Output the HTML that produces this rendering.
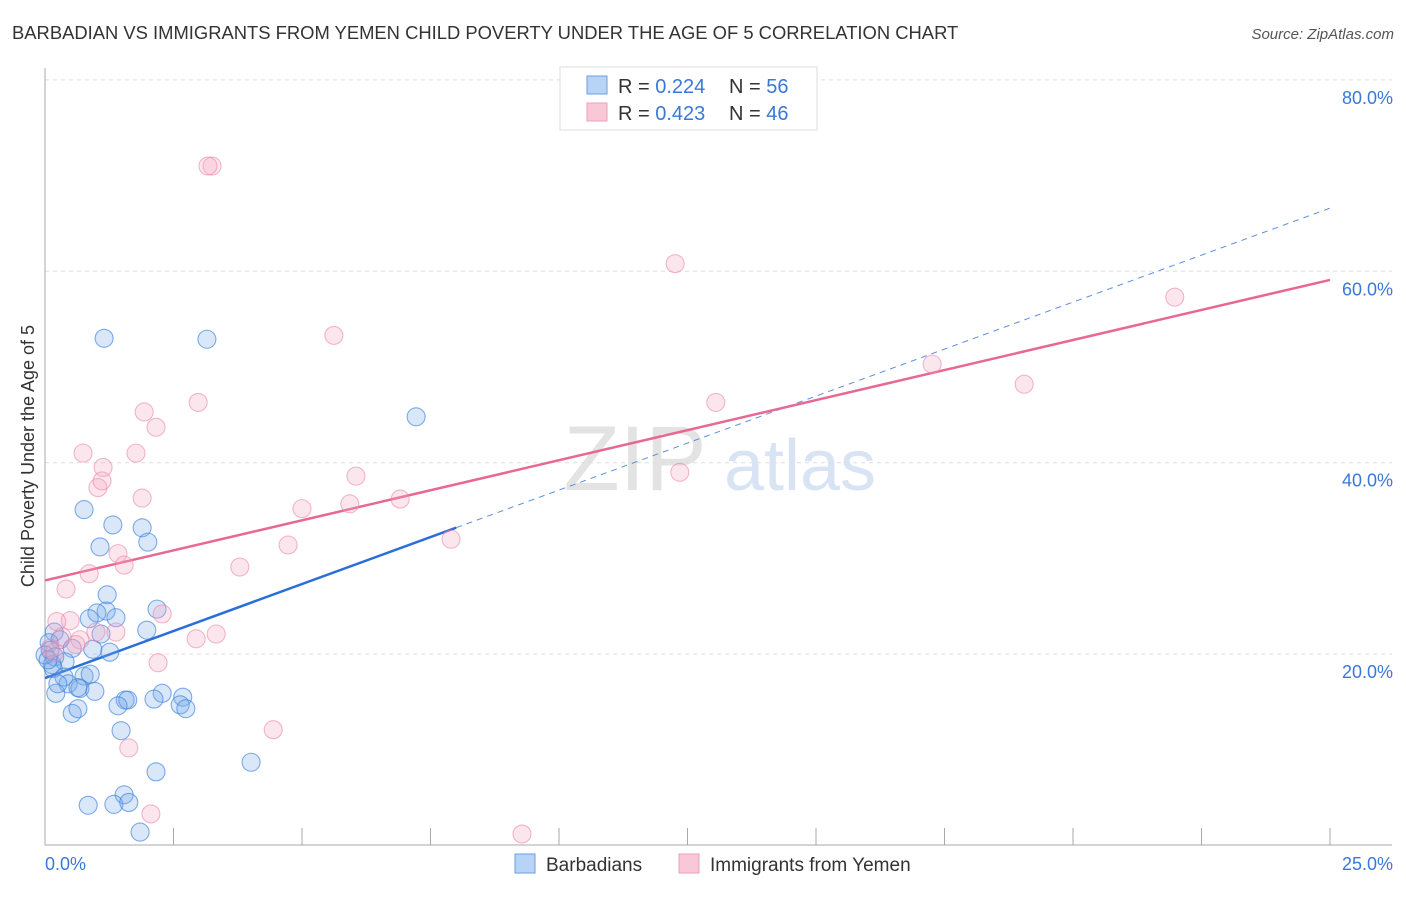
<!DOCTYPE html>
<html><head><meta charset="utf-8"><style>
body{margin:0;background:#fff;font-family:"Liberation Sans",sans-serif;}
svg text{font-family:"Liberation Sans",sans-serif;}
</style></head><body>
<svg id="chart" width="1406" height="892">
<text x="12" y="39" font-size="18.4" fill="#333">BARBADIAN VS IMMIGRANTS FROM YEMEN CHILD POVERTY UNDER THE AGE OF 5 CORRELATION CHART</text>
<text x="1394" y="39" font-size="15" fill="#555" font-style="italic" text-anchor="end">Source: ZipAtlas.com</text>
<g>
<text x="635" y="490" font-size="92" fill="#d8d8d8" font-family="Liberation Serif" text-anchor="middle" opacity="0.7">ZIP</text>
<text x="800" y="490" font-size="72" fill="#c8daf0" text-anchor="middle" opacity="0.7">atlas</text>
</g>
<g id="grid"></g>
<g id="axes"></g>
<g id="lines"></g>
<g id="points"></g>
<text transform="translate(34,456) rotate(-90)" font-size="18" fill="#333" text-anchor="middle">Child Poverty Under the Age of 5</text>
<g>
<rect x="560" y="67" width="257" height="63" fill="#fff" stroke="#ddd"/>
<rect x="587" y="76" width="20" height="18" fill="#b8d3f5" stroke="#6aa0e0"/>
<text x="618" y="93" font-size="20" fill="#333">R = <tspan fill="#3a78d8">0.224</tspan></text>
<text x="729" y="93" font-size="20" fill="#333">N = <tspan fill="#3a78d8">56</tspan></text>
<rect x="587" y="103" width="20" height="18" fill="#f8c8d6" stroke="#eea0b8"/>
<text x="618" y="120" font-size="20" fill="#333">R = <tspan fill="#3a78d8">0.423</tspan></text>
<text x="729" y="120" font-size="20" fill="#333">N = <tspan fill="#3a78d8">46</tspan></text>
</g>
<g>
<rect x="515" y="854" width="20" height="19" fill="#b8d3f5" stroke="#6aa0e0"/>
<text x="546" y="871" font-size="19" fill="#333">Barbadians</text>
<rect x="679" y="854" width="20" height="19" fill="#f8c8d6" stroke="#eea0b8"/>
<text x="710" y="871" font-size="19" fill="#333">Immigrants from Yemen</text>
</g>
</svg>
<script>
const blueX=[1.15,3.15,7.22,0.76,1.32,1.89,2.00,1.07,1.21,1.19,1.01,1.38,0.86,2.18,1.98,1.09,0.18,0.29,0.08,0.10,0.19,0.53,0.93,1.26,0.39,0.14,0.16,0.76,0.37,0.88,0.45,0.68,0.97,0.21,0.64,2.28,2.12,1.56,1.61,2.68,2.63,2.74,1.42,0.53,0.64,1.48,2.16,4.01,0.84,1.54,1.34,1.63,1.85,0.0,0.06,0.25];
const blueY=[53.0,52.9,44.8,35.1,33.5,33.2,31.7,31.2,26.2,24.5,24.3,23.8,23.7,24.7,22.5,22.1,22.3,21.5,21.2,20.4,19.7,20.6,20.5,20.2,19.2,18.9,18.5,17.7,17.6,17.9,16.9,16.4,16.1,15.9,16.5,15.9,15.3,15.2,15.2,15.5,14.7,14.3,14.6,13.8,14.3,12.0,7.7,8.7,4.2,5.3,4.3,4.5,1.4,19.9,19.4,16.9];
const pinkX=[3.25,3.17,12.26,21.98,5.62,17.26,19.05,1.93,2.98,13.05,2.16,0.74,1.77,1.13,1.03,1.11,12.35,6.05,5.93,1.89,5.0,6.91,4.73,7.90,1.42,1.54,3.79,0.86,0.41,0.49,0.23,2.28,0.99,1.38,0.68,0.33,0.60,3.33,2.94,2.20,1.63,4.44,2.06,9.28,0.10,0.19];
const pinkY=[71.0,71.0,60.8,57.3,53.3,50.3,48.2,45.3,46.3,46.3,43.7,41.0,41.0,39.5,37.4,38.1,39.0,38.6,35.7,36.3,35.2,36.2,31.4,32.0,30.5,29.3,29.1,28.4,26.8,23.5,23.4,24.2,22.3,22.3,21.5,21.8,21.0,22.1,21.6,19.1,10.2,12.1,3.3,1.2,20.6,20.2];
const blueTrend=[17.5,66.6];
const blueSolidEnd=8.0;
const pinkTrend=[27.7,59.1];
const yTicks=[20,40,60,80];
const yTickLabels=["20.0%","40.0%","60.0%","80.0%"];
const xTicks=[0,2.5,5,7.5,10,12.5,15,17.5,20,22.5,25];
const xLabels=[[0,"0.0%"],[25,"25.0%"]];
const NS="http://www.w3.org/2000/svg";
const sx=v=>45+v*51.4, sy=v=>845.5-v*9.57;
function mk(tag,attrs,parent){const e=document.createElementNS(NS,tag);for(const k in attrs)e.setAttribute(k,attrs[k]);document.getElementById(parent).appendChild(e);return e;}
yTicks.forEach((t,i)=>{
 const g=mk('line',{x1:45,x2:1392,y1:sy(t),y2:sy(t),stroke:'#ddd','stroke-dasharray':'4,4'},'grid');
 
 
 const l=mk('text',{x:1393,y:sy(t)+24,'font-size':18,fill:'#3a78d8','text-anchor':'end'},'axes');
 l.textContent=yTickLabels[i];
 
 
});
let a=mk('line',{x1:45,x2:45,y1:68,y2:845,stroke:'#aaa'},'axes');


a=mk('line',{x1:45,x2:1392,y1:845,y2:845,stroke:'#aaa'},'axes');


xTicks.forEach(t=>{const e=mk('line',{x1:sx(t),x2:sx(t),y1:828,y2:845,stroke:'#aaa'},'axes');
 
 });
xLabels.forEach(([v,s],i)=>{const e=mk('text',{x:sx(v),y:870,'font-size':18,fill:'#3a78d8','text-anchor':'start'},'axes');
 if(i){e.setAttribute('x',1393);e.setAttribute('text-anchor','end');}
 e.textContent=s;
 
 });
function pts(X,Y,fill,stroke,name){X.forEach((x,i)=>{const c=mk('circle',{cx:sx(x),cy:sy(Y[i]),r:9,fill:fill,stroke:stroke,'stroke-width':1.1},'points');
 
 });}
pts(blueX,blueY,'rgba(120,170,235,0.28)','rgba(60,130,220,0.65)','barbadian-point');
pts(pinkX,pinkY,'rgba(245,165,195,0.28)','rgba(235,135,170,0.6)','yemen-point');
const bAt=x=>blueTrend[0]+(blueTrend[1]-blueTrend[0])*x/25;
let t=mk('line',{x1:sx(0),y1:sy(bAt(0)),x2:sx(blueSolidEnd),y2:sy(bAt(blueSolidEnd)),stroke:'#2a6fd8','stroke-width':2.5},'lines');


t=mk('line',{x1:sx(blueSolidEnd),y1:sy(bAt(blueSolidEnd)),x2:sx(25),y2:sy(bAt(25)),stroke:'#5a8fe0','stroke-width':1,'stroke-dasharray':'6,5'},'lines');


t=mk('line',{x1:sx(0),y1:sy(pinkTrend[0]),x2:sx(25),y2:sy(pinkTrend[1]),stroke:'#e86894','stroke-width':2.5},'lines');


</script>
</body></html>
